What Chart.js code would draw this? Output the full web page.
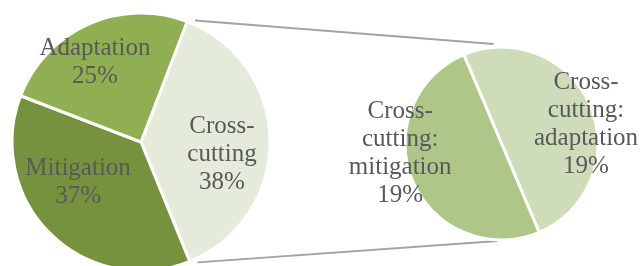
<!DOCTYPE html>
<html><head><meta charset="utf-8">
<script src="https://cdn.jsdelivr.net/npm/chart.js@4"></script>
<style>
html,body{margin:0;padding:0;background:#fff;overflow:hidden;width:643px;height:266px}
#wrap{position:relative;width:643px;height:266px}
canvas{position:absolute;left:0;top:0}
</style></head><body>
<div id="wrap"><canvas id="c1" width="643" height="266"></canvas><canvas id="c2" width="643" height="266"></canvas></div>
<script>
// ---- data ----
const mainCategories = ['Cross-cutting', 'Mitigation', 'Adaptation'];
const mainValues = [38, 37, 25];
const mainLabelLines = [['Cross-', 'cutting'], ['Mitigation'], ['Adaptation']];
const subCategories = ['Cross-cutting: adaptation', 'Cross-cutting: mitigation'];
const subValues = [19, 19];
const subLabelLines = [['Cross-', 'cutting:', 'adaptation'], ['Cross-', 'cutting:', 'mitigation']];

// ---- styling ----
const mainColors = ['#E5EBDB', '#77923E', '#8FAF52'];
const subColors = ['#CEDCB9', '#AEC687'];
const mainLabelPos = [[0.628, 0.10], [-0.488, 0.31], [-0.357, -0.616]];
const subLabelPos = [[0.876, -0.197], [-1.05, 0.10]];
const FONT = '25px "Liberation Serif", serif';
const TEXT = '#595959';
const LH = 28;

function labelPlugin(lines, pos) {
  return {
    id: 'lbl',
    afterDatasetsDraw(chart) {
      const ctx = chart.ctx;
      const meta = chart.getDatasetMeta(0);
      const vals = chart.data.datasets[0].data;
      ctx.save();
      ctx.font = FONT; ctx.fillStyle = TEXT;
      ctx.textAlign = 'center'; ctx.textBaseline = 'middle';
      meta.data.forEach((arc, i) => {
        const r = arc.outerRadius;
        const cx = arc.x + pos[i][0] * r, cy = arc.y + pos[i][1] * r;
        const all = lines[i].concat([vals[i] + '%']);
        const top = cy - (all.length - 1) * LH / 2;
        all.forEach((t, k) => ctx.fillText(t, cx, top + k * LH));
      });
      ctx.restore();
    }
  };
}

const left = new Chart(document.getElementById('c1'), {
  type: 'pie',
  data: { labels: mainCategories, datasets: [{ data: mainValues, backgroundColor: mainColors,
    borderColor: '#ffffff', borderWidth: 3, hoverOffset: 0, radius: 129 }] },
  options: {
    responsive: false, animation: false, devicePixelRatio: 1, rotation: 21,
    layout: { padding: { left: 0, right: 361, top: 18, bottom: 0 } },
    plugins: { legend: { display: false }, tooltip: { enabled: false } }
  },
  plugins: [labelPlugin(mainLabelLines, mainLabelPos)]
});

const connector = {
  id: 'conn',
  beforeDatasetsDraw(chart) {
    const ctx = chart.ctx;
    const la = left.getDatasetMeta(0).data[0];
    const ra = chart.getDatasetMeta(0).data[0];
    const R = la.outerRadius + 4;
    const d = 3 * Math.PI / 180;
    const p1 = [la.x + R * Math.cos(la.startAngle + d), la.y + R * Math.sin(la.startAngle + d)];
    const p2 = [la.x + R * Math.cos(la.endAngle - d), la.y + R * Math.sin(la.endAngle - d)];
    const r = ra.outerRadius;
    const q1 = [ra.x - 8, ra.y - r - 3];
    const q2 = [ra.x - 4, ra.y + r + 1];
    ctx.save();
    ctx.strokeStyle = '#A3A3A3'; ctx.lineWidth = 1.8;
    ctx.beginPath(); ctx.moveTo(p1[0], p1[1]); ctx.lineTo(q1[0], q1[1]);
    ctx.moveTo(p2[0], p2[1]); ctx.lineTo(q2[0], q2[1]); ctx.stroke();
    ctx.restore();
  }
};

const right = new Chart(document.getElementById('c2'), {
  type: 'pie',
  data: { labels: subCategories, datasets: [{ data: subValues, backgroundColor: subColors,
    borderColor: '#ffffff', borderWidth: 3, hoverOffset: 0, radius: 96.5 }] },
  options: {
    responsive: false, animation: false, devicePixelRatio: 1, rotation: -23,
    layout: { padding: { left: 360, right: 0, top: 21, bottom: 0 } },
    plugins: { legend: { display: false }, tooltip: { enabled: false } }
  },
  plugins: [connector, labelPlugin(subLabelLines, subLabelPos)]
});
</script>
</body></html>
